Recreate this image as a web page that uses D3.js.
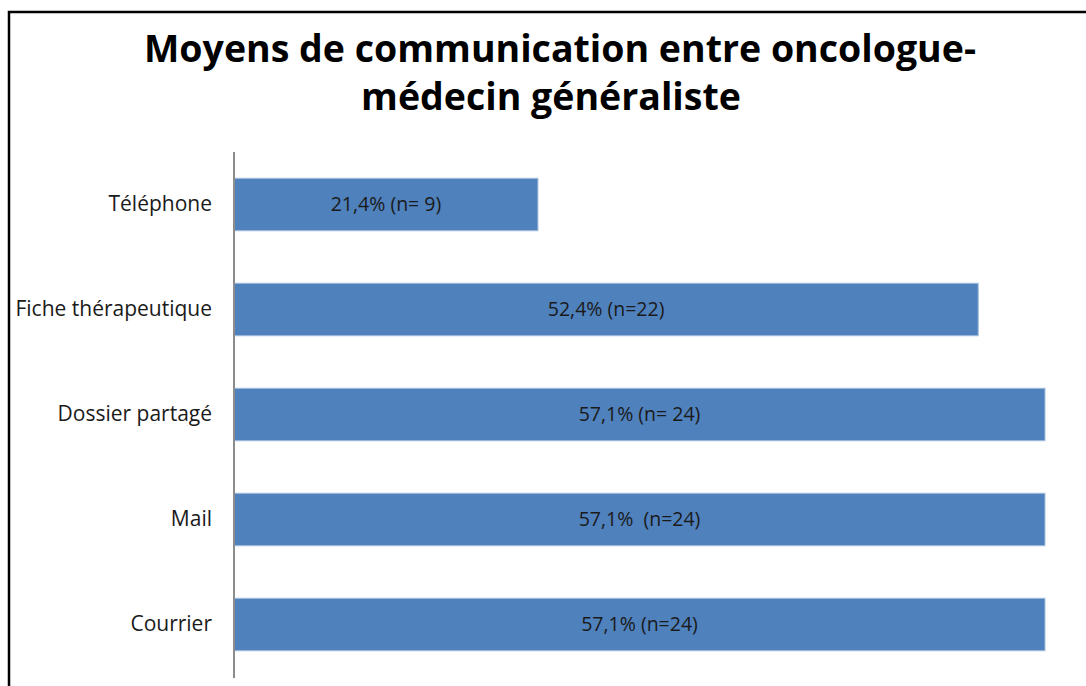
<!DOCTYPE html>
<html>
<head>
<meta charset="utf-8">
<script src="https://cdn.jsdelivr.net/npm/d3@7"></script>
<style>
  html, body { margin: 0; padding: 0; background: #fff; }
  svg { display: block; }
</style>
</head>
<body>
<div id="chart"></div>
<script>
// ── Data ─────────────────────────────────────────────────────────────────
const categories = ['Téléphone', 'Fiche thérapeutique', 'Dossier partagé', 'Mail', 'Courrier'];
const percents   = [21.4, 52.4, 57.1, 57.1, 57.1];
const barLabels  = ['21,4% (n= 9)', '52,4% (n=22)', '57,1% (n= 24)', '57,1%  (n=24)', '57,1% (n=24)'];
const titleLines = ['Moyens de communication entre oncologue-', 'médecin généraliste'];

const W = 1086, H = 686;
const FONT = '"Open Sans", Lato, "DejaVu Sans", sans-serif';
const INK = '#1a1a1a';

const svg = d3.select('#chart').append('svg')
  .attr('width', W)
  .attr('height', H);

// chart frame (runs off the right and bottom of the picture)
svg.append('rect')
  .attr('x', 9).attr('y', 12)
  .attr('width', 1090).attr('height', 700)
  .attr('fill', '#fff')
  .attr('stroke', '#000')
  .attr('stroke-width', 2.5);

// ── Title ────────────────────────────────────────────────────────────────
svg.append('text')
  .attr('y', 62)
  .attr('text-anchor', 'middle')
  .attr('font-family', FONT)
  .attr('font-weight', 'bold')
  .attr('font-size', 37.5)
  .attr('fill', '#000')
  .selectAll('tspan')
  .data(titleLines)
  .join('tspan')
  .attr('x', (d, i) => i === 0 ? 560 : 551)
  .attr('dy', (d, i) => i === 0 ? 0 : 48)
  .text(d => d);

// ── Scales ───────────────────────────────────────────────────────────────
const x = d3.scaleLinear()
  .domain([0, d3.max(percents)])
  .range([234, 1045]);

const y = d3.scaleBand()
  .domain(categories)
  .range([152, 677])
  .paddingInner(0.5)
  .paddingOuter(0.25);

// ── Bars ─────────────────────────────────────────────────────────────────
const rows = categories.map((c, i) => ({ cat: c, v: percents[i], label: barLabels[i] }));

svg.append('g')
  .selectAll('rect')
  .data(rows)
  .join('rect')
  .attr('x', x(0))
  .attr('y', d => y(d.cat))
  .attr('width', d => x(d.v) - x(0))
  .attr('height', y.bandwidth())
  .attr('fill', '#4f81bd')
  .attr('stroke', '#a7c0de')
  .attr('stroke-width', 1);

svg.append('g')
  .selectAll('text')
  .data(rows)
  .join('text')
  .attr('x', d => (x(0) + x(d.v)) / 2)
  .attr('y', d => y(d.cat) + y.bandwidth() / 2)
  .attr('dy', '0.35em')
  .attr('text-anchor', 'middle')
  .attr('font-family', FONT)
  .attr('font-size', 19.5)
  .attr('fill', INK)
  .style('white-space', 'pre')
  .text(d => d.label);

// ── Category axis ────────────────────────────────────────────────────────
const yAxis = svg.append('g')
  .attr('transform', `translate(${x(0)},0)`)
  .call(d3.axisLeft(y).tickSize(0).tickPadding(22));

yAxis.select('.domain')
  .attr('d', `M0,152V678`)
  .attr('stroke', '#8c8c8c')
  .attr('stroke-width', 2);

yAxis.selectAll('text')
  .attr('font-family', FONT)
  .attr('font-size', 21)
  .attr('fill', INK);
</script>
</body>
</html>
